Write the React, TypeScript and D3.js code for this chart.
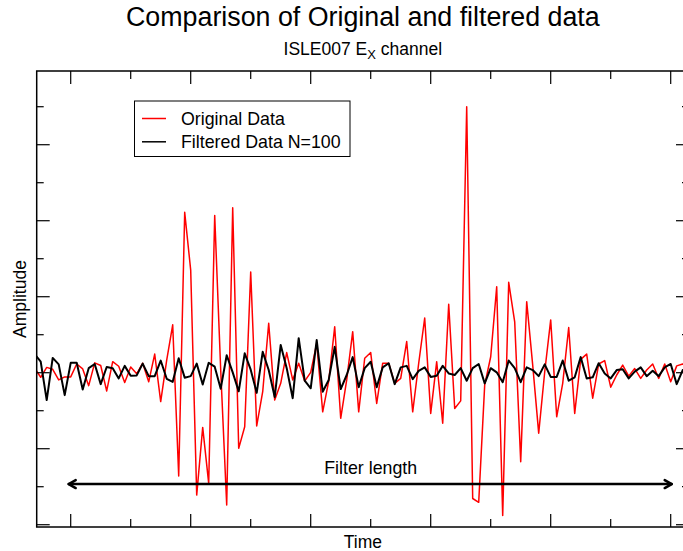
import React from "react";
import * as d3 from "d3";

// Sample index of the first value in each series
const sampleStart = -6;

// Original (red) series, amplitude units
const originalData = [
  0.12, -0.12, 0.14, 0.09, -0.19, -0.11,
  -0.11, 0.23, 0.10, -0.34, 0.26, 0.19, -0.48, 0.29, 0.17, -0.26,
  0.15, -0.03, 0.25, -0.24, 0.49, -0.76, 0.33, 1.26, -2.72, 4.22,
  2.70, -3.22, -1.44, -2.91, 4.14, 0.07, -3.48, 4.34, -1.99, -1.42,
  2.65, -1.40, -0.50, 1.30, -0.72, -0.28, 0.53, -0.19, 0.25, -0.22,
  0.01, 0.77, -1.03, -0.22, 1.21, -1.20, -0.19, 1.08, -1.03, 0.38,
  0.53, -0.81, 0.25, 0.25, -0.28, -0.15, 0.82, -1.03, 0.25, 1.44,
  -1.07, 0.29, -1.33, 1.80, -0.94, -0.74, 7.00, -3.31, -3.41, -0.32,
  0.42, 2.26, -3.76, 2.38, 1.34, -2.34, 1.87, 0.20, -1.59, 0.02,
  1.39, -1.16, -0.28, 1.19, -1.07, 0.35, 0.49, -0.67, 0.23, 0.32,
  -0.38, -0.06, 0.20, -0.09, 0.11, -0.15, 0.07, 0.23, -0.15, 0.23,
  -0.24, 0.18, 0.23, 0.15, 0.02,
];

// Filtered (black) series, amplitude units
const filteredData = [
  0.49, 0.29, -0.72, 0.39, 0.22, -0.59,
  0.26, 0.26, -0.44, 0.12, 0.23, -0.30, 0.15, 0.12, -0.15, 0.18,
  -0.08, -0.07, 0.24, -0.09, -0.09, 0.32, -0.16, -0.24, 0.38, -0.13,
  -0.09, 0.24, -0.31, 0.26, 0.16, -0.42, 0.46, 0.01, -0.49, 0.51,
  0.08, -0.53, 0.55, 0.07, -0.64, 0.73, 0.12, -0.67, 0.91, -0.21,
  -0.41, 0.86, -0.50, -0.19, 0.68, -0.43, -0.06, 0.41, -0.38, 0.12,
  0.29, -0.38, 0.14, 0.25, -0.30, 0.14, 0.18, -0.17, 0.05, 0.14,
  -0.11, -0.08, 0.18, -0.02, -0.06, 0.12, -0.21, 0.12, 0.23, -0.28,
  0.12, 0.01, -0.25, 0.32, 0.12, -0.25, 0.14, 0.07, -0.09, 0.22,
  -0.11, -0.11, 0.32, -0.21, -0.12, 0.41, -0.15, -0.12, 0.25, -0.02,
  -0.15, 0.07, 0.09, -0.15, 0.03, 0.14, -0.09, 0.05, -0.09, 0.14,
  0.23, -0.30, 0.07, 0.12, 0.07,
];

const xMajorTicks = [0, 20, 40, 60, 80, 100];
const xMinorTicks = [10, 30, 50, 70, 90];
const yMajorTicks = [-4, -2, 0, 2, 4, 6];
const yMinorTicks = [-3, -1, 1, 3, 5, 7];
const xDomain = [-5.667, 103.05];
const yDomain = [-4.06, 7.94];

// Filter-length annotation (data units)
const filterSpan = [0, 100];
const filterLevel = -2.93;
const filterLabel = "Filter length";

const legendLabels = ["Original Data", "Filtered Data N=100"];
const legendColors = ["#ff0000", "#000000"];

const W = 683;
const H = 551;
const M = { left: 36.7, right: 689, top: 71, bottom: 527 };
const FONT = "'Liberation Sans', Arial, Helvetica, sans-serif";

export default function App() {
  const x = d3.scaleLinear().domain(xDomain).range([M.left, M.right]);
  const y = d3.scaleLinear().domain(yDomain).range([M.bottom, M.top]);

  const toPts = (arr: number[]) => arr.map((v, i) => [sampleStart + i, v] as [number, number]);
  const line = d3
    .line<[number, number]>()
    .x((d) => x(d[0]))
    .y((d) => y(d[1]));

  const ax0 = x(filterSpan[0]);
  const ax1 = x(filterSpan[1]);
  const ay = y(filterLevel);
  const cx = (M.left + M.right) / 2;

  return (
    <div style={{ position: "absolute", left: 0, top: 0 }}>
      <svg width={W} height={H} style={{ display: "block", background: "#fff" }} fontFamily={FONT}>
        <defs>
          <clipPath id="plotClip">
            <rect x={M.left} y={M.top} width={M.right - M.left} height={M.bottom - M.top} />
          </clipPath>
        </defs>
        <rect x={0} y={0} width={W} height={H} fill="#fff" />

        {/* Titles */}
        <text x={cx} y={26} textAnchor="middle" fontSize={26.8} fill="#000">
          Comparison of Original and filtered data
        </text>
        <text x={cx} y={55} textAnchor="middle" fontSize={17.5} fill="#000">
          ISLE007 E
          <tspan fontSize={13} dy={4}>X</tspan>
          <tspan dy={-4}> channel</tspan>
        </text>

        {/* Data */}
        <g clipPath="url(#plotClip)">
          <path d={line(toPts(originalData)) || ""} fill="none" stroke="#ff0000" strokeWidth={1.5} strokeLinejoin="round" />
          <path d={line(toPts(filteredData)) || ""} fill="none" stroke="#000" strokeWidth={2} strokeLinejoin="round" />
        </g>

        {/* Frame */}
        <rect x={M.left} y={M.top} width={M.right - M.left} height={M.bottom - M.top} fill="none" stroke="#000" strokeWidth={1.5} />

        {/* X ticks (inward, bottom and top) */}
        <g stroke="#000" strokeWidth={1.2}>
          {xMajorTicks.map((t) => (
            <g key={"xM" + t}>
              <line x1={x(t)} x2={x(t)} y1={M.bottom} y2={M.bottom - 13} />
              <line x1={x(t)} x2={x(t)} y1={M.top} y2={M.top + 13} />
            </g>
          ))}
          {xMinorTicks.map((t) => (
            <g key={"xm" + t}>
              <line x1={x(t)} x2={x(t)} y1={M.bottom} y2={M.bottom - 8} />
              <line x1={x(t)} x2={x(t)} y1={M.top} y2={M.top + 8} />
            </g>
          ))}
          {yMajorTicks.map((t) => (
            <g key={"yM" + t}>
              <line x1={M.left} x2={M.left + 13} y1={y(t)} y2={y(t)} />
              <line x1={M.right} x2={M.right - 13} y1={y(t)} y2={y(t)} />
            </g>
          ))}
          {yMinorTicks.map((t) => (
            <g key={"ym" + t}>
              <line x1={M.left} x2={M.left + 7} y1={y(t)} y2={y(t)} />
              <line x1={M.right} x2={M.right - 7} y1={y(t)} y2={y(t)} />
            </g>
          ))}
        </g>

        {/* Filter length annotation */}
        <g stroke="#000" strokeWidth={2.5} fill="none" strokeLinecap="round" strokeLinejoin="round">
          <line x1={ax0 - 2} x2={ax1 + 1} y1={ay} y2={ay} />
          <polyline points={`${ax0 + 5},${ay - 4} ${ax0 - 2},${ay} ${ax0 + 5},${ay + 4}`} />
          <polyline points={`${ax1 - 6},${ay - 4} ${ax1 + 1},${ay} ${ax1 - 6},${ay + 4}`} />
        </g>
        <text x={x((filterSpan[0] + filterSpan[1]) / 2)} y={ay - 10.5} textAnchor="middle" fontSize={17.8} fill="#000">
          {filterLabel}
        </text>

        {/* Axis labels */}
        <text x={cx} y={548} textAnchor="middle" fontSize={17.5} fill="#000">
          Time
        </text>
        <text transform={`translate(25.5, ${(M.top + M.bottom) / 2}) rotate(-90)`} textAnchor="middle" fontSize={17.5} fill="#000">
          Amplitude
        </text>

        {/* Legend */}
        <g>
          <rect x={134.5} y={101} width={215.5} height={55.5} fill="#fff" stroke="#000" strokeWidth={1} />
          {legendLabels.map((lab, i) => (
            <g key={lab}>
              <line x1={142} x2={166} y1={118.5 + i * 23.3} y2={118.5 + i * 23.3} stroke={legendColors[i]} strokeWidth={1.5} />
              <text x={181} y={124.5 + i * 23.3} fontSize={17.8} fill="#000">
                {lab}
              </text>
            </g>
          ))}
        </g>
      </svg>
    </div>
  );
}
